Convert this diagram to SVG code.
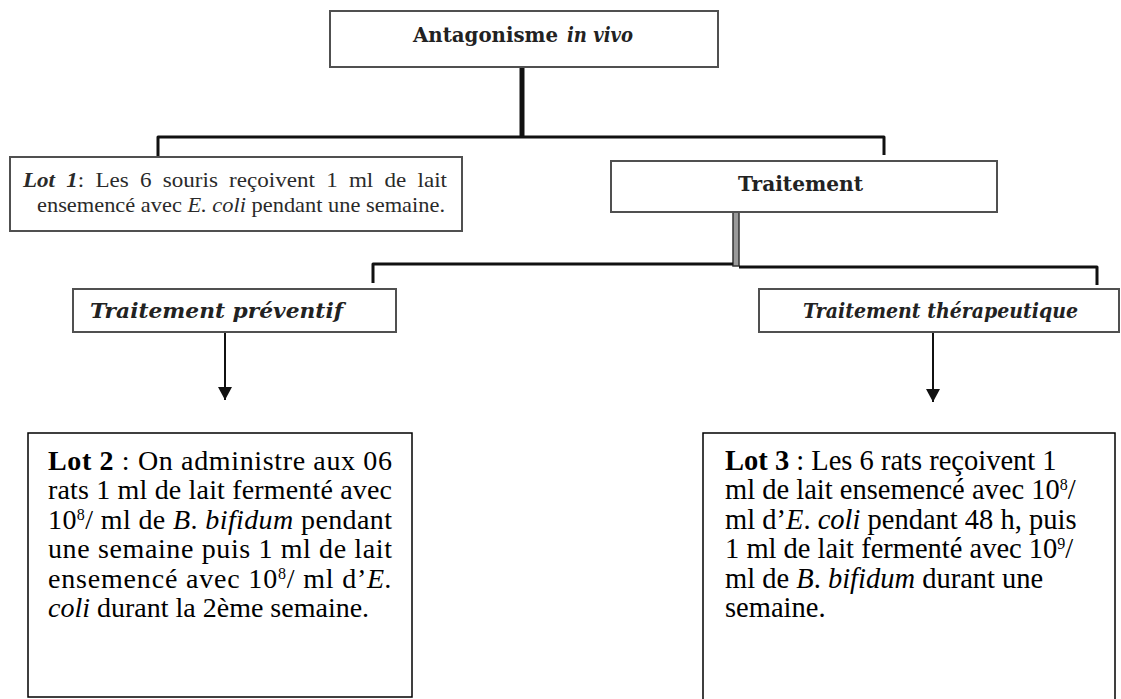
<svg xmlns="http://www.w3.org/2000/svg" width="1121" height="699" viewBox="0 0 1121 699">
  <defs>
    <marker id="arrowhead" viewBox="0 0 13 14" refX="13" refY="7" markerWidth="13" markerHeight="14" markerUnits="userSpaceOnUse" orient="auto">
      <path d="M0,0 L13,7 L0,14 Z" fill="#111"/>
    </marker>
    <style>
      .title-box { fill: #fff; stroke: #505050; stroke-width: 2; }
      .lot-box { fill: #fff; stroke: #000; stroke-width: 1.5; }
      .title { font-family: "DejaVu Serif", "Liberation Serif", serif; font-weight: bold; fill: #222; }
      .scan { font-family: "Liberation Serif", "Times New Roman", serif; fill: #2a2a2a; }
      .body { font-family: "Liberation Serif", "Times New Roman", serif; fill: #000; }
      .link { fill: none; stroke: #111; stroke-width: 3; stroke-linejoin: round; }
      .arrow { fill: none; stroke: #111; stroke-width: 2; }
      .sup { font-size: 16px; }
    </style>
  </defs>

  <rect width="1121" height="699" fill="#fff"/>

  <!-- connectors -->
  <g id="connectors">
    <line x1="522" y1="66" x2="522" y2="138" stroke="#111" stroke-width="5"/>
    <path class="link" d="M158,156 V137 H884 V155"/>
    <rect x="733" y="212" width="6" height="54" fill="#9a9a9a" stroke="#333" stroke-width="1.5"/>
    <path class="link" d="M373,283 V264 H733"/>
    <path class="link" d="M739,267 H1097 V285"/>
    <line class="arrow" x1="225" y1="331" x2="225" y2="400" marker-end="url(#arrowhead)"/>
    <line class="arrow" x1="933" y1="331" x2="933" y2="402" marker-end="url(#arrowhead)"/>
  </g>

  <!-- root -->
  <g id="antagonisme">
    <rect class="title-box" x="330" y="11" width="388" height="56"/>
    <text class="title" x="413" y="42" font-size="21" textLength="145" lengthAdjust="spacingAndGlyphs">Antagonisme</text>
    <text class="title" x="567" y="42" font-size="21" font-style="italic" textLength="66" lengthAdjust="spacingAndGlyphs">in vivo</text>
  </g>

  <!-- control group -->
  <g id="lot1">
    <rect class="title-box" x="10" y="157" width="452" height="74"/>
    <text class="scan" x="23" y="187" font-size="21" word-spacing="5" textLength="424" lengthAdjust="spacingAndGlyphs"><tspan font-weight="bold" font-style="italic">Lot 1</tspan>: Les 6 souris reçoivent 1 ml de lait</text>
    <text class="scan" x="37" y="212" font-size="21" textLength="408" lengthAdjust="spacingAndGlyphs">ensemencé avec <tspan font-style="italic">E. coli</tspan> pendant une semaine.</text>
  </g>

  <g id="traitement">
    <rect class="title-box" x="611" y="161" width="386" height="51"/>
    <text class="title" x="738" y="191" font-size="21" textLength="125" lengthAdjust="spacingAndGlyphs">Traitement</text>
  </g>

  <g id="preventif">
    <rect class="title-box" x="73" y="289" width="323" height="43"/>
    <text class="title" x="90" y="318" font-size="20" font-style="italic" textLength="253" lengthAdjust="spacingAndGlyphs">Traitement préventif</text>
  </g>

  <g id="therapeutique">
    <rect class="title-box" x="759" y="289" width="360" height="43"/>
    <text class="title" x="803" y="318" font-size="20" font-style="italic" textLength="275" lengthAdjust="spacingAndGlyphs">Traitement thérapeutique</text>
  </g>

  <!-- preventive group -->
  <g id="lot2" class="body" font-size="28">
    <rect class="lot-box" x="28" y="433" width="384" height="264"/>
    <text x="48" y="470" textLength="344" lengthAdjust="spacing"><tspan font-weight="bold">Lot 2</tspan> : On administre aux 06</text>
    <text x="48" y="499" textLength="344" lengthAdjust="spacing">rats 1 ml de lait fermenté avec</text>
    <text x="48" y="529" textLength="344" lengthAdjust="spacing">10<tspan class="sup" dy="-9">8</tspan><tspan dy="9">/ ml de </tspan><tspan font-style="italic">B</tspan>. <tspan font-style="italic">bifidum</tspan> pendant</text>
    <text x="48" y="558" textLength="344" lengthAdjust="spacing">une semaine puis 1 ml de lait</text>
    <text x="48" y="588" textLength="344" lengthAdjust="spacing">ensemencé avec 10<tspan class="sup" dy="-9">8</tspan><tspan dy="9">/ ml d’</tspan><tspan font-style="italic">E.</tspan></text>
    <text x="48" y="617"><tspan font-style="italic">coli</tspan> durant la 2ème semaine.</text>
  </g>

  <!-- curative group -->
  <g id="lot3" class="body" font-size="28.5">
    <rect class="lot-box" x="703" y="433" width="412" height="280"/>
    <text x="725" y="470"><tspan font-weight="bold">Lot 3</tspan> : Les 6 rats reçoivent 1</text>
    <text x="725" y="499">ml de lait ensemencé avec 10<tspan class="sup" dy="-9">8</tspan><tspan dy="9">/</tspan></text>
    <text x="725" y="529">ml d’<tspan font-style="italic">E</tspan>. <tspan font-style="italic">coli</tspan> pendant 48 h, puis</text>
    <text x="725" y="558">1 ml de lait fermenté avec 10<tspan class="sup" dy="-9">9</tspan><tspan dy="9">/</tspan></text>
    <text x="725" y="588">ml de <tspan font-style="italic">B</tspan>. <tspan font-style="italic">bifidum</tspan> durant une</text>
    <text x="725" y="617">semaine.</text>
  </g>
</svg>
